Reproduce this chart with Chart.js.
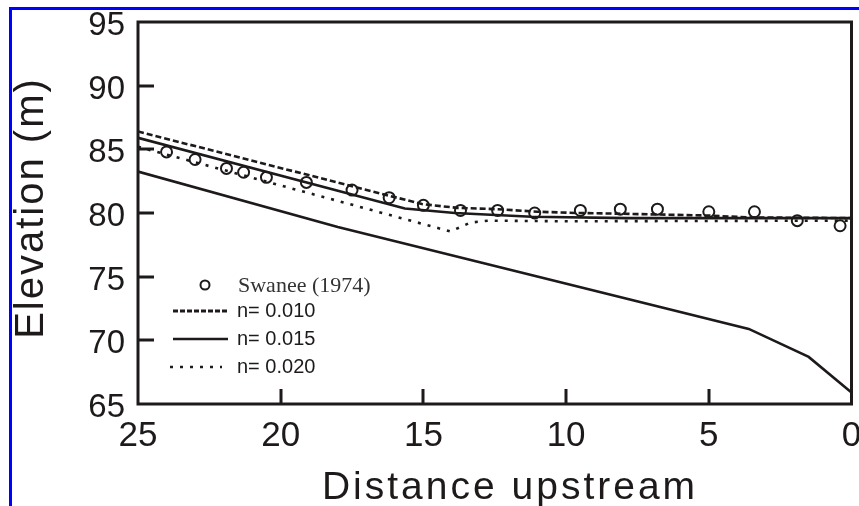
<!DOCTYPE html>
<html>
<head>
<meta charset="utf-8">
<script src="https://cdn.jsdelivr.net/npm/chart.js@4.4.1/dist/chart.umd.min.js"></script>
<style>
  html, body { margin: 0; padding: 0; background: #fff; }
  #wrap { position: relative; width: 859px; height: 506px; overflow: hidden; }
  #frame { position: absolute; left: 9px; top: 7px; right: -10px; bottom: -10px;
           border-left: 3px solid #0000ff; border-top: 3px solid #0000ff; pointer-events: none; }
</style>
</head>
<body>
<div id="wrap">
  <canvas id="profileChart" width="859" height="506"></canvas>
  <div id="frame"></div>
</div>
<script>
  // observed water surface (Swanee 1974)
  const obsDist = [24.0, 23.0, 21.9, 21.3, 20.5, 19.1, 17.5, 16.2, 15.0, 13.7, 12.4, 11.1, 9.5, 8.1, 6.8, 5.0, 3.4, 1.9, 0.4];
  const obsElev = [84.8, 84.2, 83.5, 83.2, 82.8, 82.4, 81.8, 81.2, 80.6, 80.2, 80.2, 80.0, 80.2, 80.3, 80.3, 80.1, 80.1, 79.4, 79.0];

  // computed profiles
  const n010Dist = [25, 15.05, 13.8, 12.4, 11.0, 9.6, 8.2, 5.0, 3.6, 0];
  const n010Elev = [86.4, 80.7, 80.4, 80.3, 80.1, 80.0, 79.95, 79.8, 79.65, 79.6];

  const n015Dist = [25, 15.65, 13.9, 11.2, 7.85, 0];
  const n015Elev = [85.9, 80.35, 80.0, 79.7, 79.6, 79.6];

  const n020Dist = [25, 14.05, 13.35, 12.7, 10.0, 0];
  const n020Elev = [85.2, 78.55, 79.25, 79.4, 79.35, 79.4];

  // channel bed
  const bedDist = [25, 18.0, 3.6, 1.5, 0];
  const bedElev = [83.25, 78.9, 70.9, 68.7, 65.9];

  const yInnerTicks = [70, 75, 80, 85, 90];
  const xInnerTicks = [20, 15, 10, 5];

  const ink = '#1e1a1a';
  const toPoints = (xs, ys) => xs.map((x, i) => ({ x: x, y: ys[i] }));

  // frame, inward ticks, legend and axis titles
  const decorations = {
    id: 'decorations',
    afterDraw(chart) {
      const ctx = chart.ctx;
      const area = chart.chartArea;
      const xs = chart.scales.x, ys = chart.scales.y;
      ctx.save();
      ctx.setLineDash([]);
      ctx.strokeStyle = ink;
      ctx.fillStyle = ink;
      ctx.lineWidth = 3;
      ctx.strokeRect(area.left, area.top, area.right - area.left, area.bottom - area.top);

      // inward tick marks
      yInnerTicks.forEach(v => {
        const py = Math.round(ys.getPixelForValue(v));
        ctx.fillRect(area.left, py - 1.5, 16, 3);
      });
      xInnerTicks.forEach(v => {
        const px = Math.round(xs.getPixelForValue(v));
        ctx.fillRect(px - 1.5, area.bottom - 15, 3, 15);
      });

      // legend
      const ds = chart.data.datasets;
      ctx.textBaseline = 'middle';
      ctx.textAlign = 'left';
      ctx.lineWidth = 2;
      ctx.beginPath();
      ctx.arc(205, 285, 4.5, 0, Math.PI * 2);
      ctx.stroke();
      ctx.fillStyle = '#333';
      ctx.font = '22px "Liberation Serif", "Times New Roman", serif';
      ctx.fillText(ds[0].label, 238, 286);

      const rows = [
        { d: ds[1], x0: 173, x1: 228, y: 311, dash: [5, 2], w: 3 },
        { d: ds[2], x0: 173, x1: 228, y: 339, dash: [], w: 2.6 },
        { d: ds[3], x0: 170, x1: 222, y: 367, dash: [3, 7], w: 2.6 }
      ];
      ctx.fillStyle = ink;
      ctx.font = '20px "Liberation Sans", Arial, sans-serif';
      rows.forEach(r => {
        ctx.setLineDash(r.dash);
        ctx.lineWidth = r.w;
        ctx.beginPath();
        ctx.moveTo(r.x0, r.y);
        ctx.lineTo(r.x1, r.y);
        ctx.stroke();
        ctx.setLineDash([]);
        ctx.fillText(r.d.label, 237, r.y);
      });

      // axis titles
      ctx.fillStyle = ink;
      ctx.textAlign = 'center';
      ctx.textBaseline = 'alphabetic';
      ctx.font = '39px "Liberation Sans", Arial, sans-serif';
      ctx.letterSpacing = '3px';
      ctx.fillText('Distance upstream', 510, 499);

      ctx.font = '40px "Liberation Sans", Arial, sans-serif';
      ctx.letterSpacing = '2px';
      ctx.translate(43, 208);
      ctx.rotate(-Math.PI / 2);
      ctx.fillText('Elevation (m)', 0, 0);
      ctx.restore();
    }
  };

  const ctx = document.getElementById('profileChart').getContext('2d');
  const chart = new Chart(ctx, {
    type: 'scatter',
    data: {
      datasets: [
        {
          label: 'Swanee (1974)',
          data: toPoints(obsDist, obsElev),
          showLine: false,
          pointStyle: 'circle',
          pointRadius: 5.5,
          pointBorderWidth: 2,
          pointBorderColor: ink,
          pointBackgroundColor: 'rgba(0,0,0,0)',
          order: 0
        },
        {
          label: 'n= 0.010',
          data: toPoints(n010Dist, n010Elev),
          showLine: true,
          borderColor: ink,
          borderWidth: 2.6,
          borderDash: [6, 3],
          pointRadius: 0,
          order: 1
        },
        {
          label: 'n= 0.015',
          data: toPoints(n015Dist, n015Elev),
          showLine: true,
          borderColor: ink,
          borderWidth: 2.6,
          pointRadius: 0,
          order: 2
        },
        {
          label: 'n= 0.020',
          data: toPoints(n020Dist, n020Elev),
          showLine: true,
          borderColor: ink,
          borderWidth: 2.6,
          borderDash: [3, 7],
          pointRadius: 0,
          order: 3
        },
        {
          label: 'bed',
          data: toPoints(bedDist, bedElev),
          showLine: true,
          borderColor: ink,
          borderWidth: 2.6,
          pointRadius: 0,
          order: 4
        }
      ]
    },
    options: {
      responsive: false,
      animation: false,
      layout: { padding: { top: 22, right: 4, left: 0, bottom: 0 } },
      plugins: {
        legend: { display: false },
        tooltip: { enabled: false }
      },
      scales: {
        x: {
          type: 'linear',
          reverse: true,
          min: 0,
          max: 25,
          grid: { display: false, drawTicks: false },
          border: { display: false },
          ticks: {
            stepSize: 5,
            autoSkip: false,
            maxRotation: 0,
            padding: 11,
            color: ink,
            font: { family: '"Liberation Sans", Arial, sans-serif', size: 35 }
          },
          afterFit: scale => {
            scale.height = 102;
            scale.paddingLeft = 0;
            scale.paddingRight = 0;
          }
        },
        y: {
          min: 65,
          max: 95,
          grid: { display: false, drawTicks: false },
          border: { display: false },
          ticks: {
            stepSize: 5,
            padding: 13,
            labelOffset: 4,
            color: ink,
            font: { family: '"Liberation Sans", Arial, sans-serif', size: 33 }
          },
          afterFit: scale => {
            scale.width = 138;
            scale.paddingTop = 0;
            scale.paddingBottom = 0;
          }
        }
      }
    },
    plugins: [decorations]
  });
</script>
</body>
</html>
